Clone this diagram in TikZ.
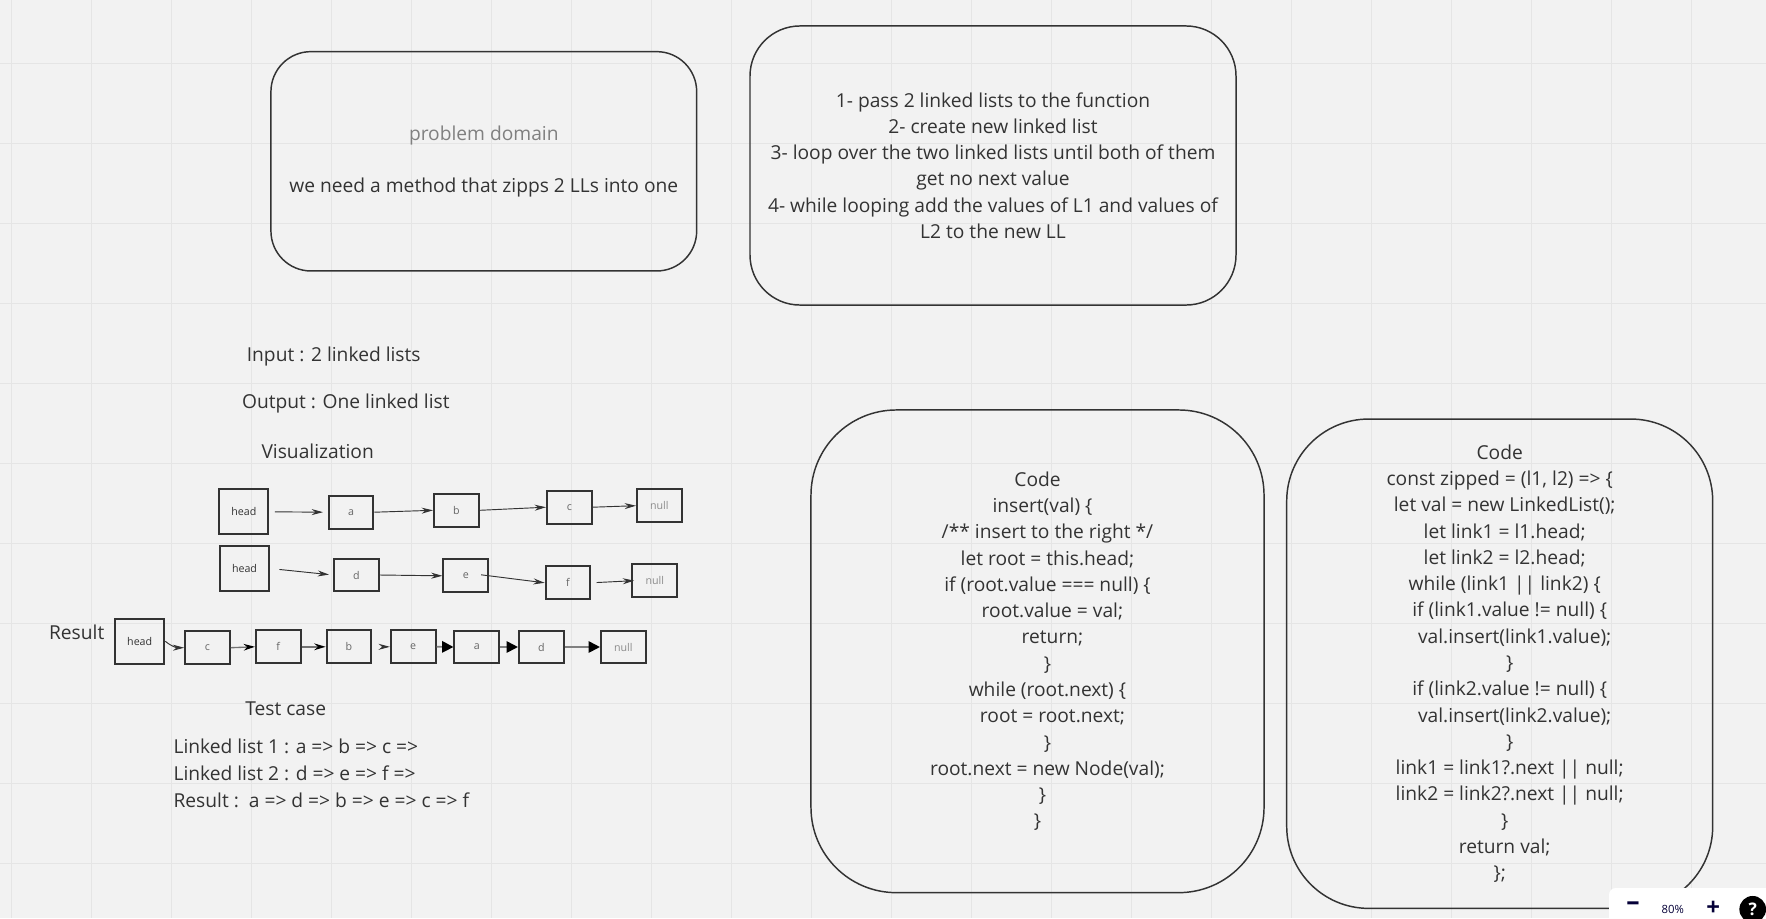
\documentclass[tikz,border=0pt]{standalone}
\usepackage{fontspec}
\setmainfont{Open Sans}
\usetikzlibrary{arrows.meta,positioning,calc}
\definecolor{ink}{HTML}{333333}
\definecolor{paper}{HTML}{F2F2F2}
\definecolor{gridc}{HTML}{E5E5E5}
\definecolor{navy}{HTML}{050038}
\newcommand{\ind}[1]{\hspace*{#1\fontdimen2\font}}

\begin{document}
\begin{tikzpicture}[x=0.75pt,y=-0.75pt,>=Stealth,
  txt/.style={font=\fontsize{14.4}{19.7}\selectfont,text=ink,inner sep=0pt},
  board/.style={txt,draw=ink,line width=1.1pt,align=center},
  cell/.style={draw=ink,line width=1.5pt,minimum width=33.5pt,minimum height=24.5pt,inner sep=0pt,font=\fontsize{8}{9}\selectfont,text=black!60},
  headcell/.style={cell,minimum width=37pt,minimum height=33.75pt,text=ink},
  nullcell/.style={cell,text=black!45},
  link/.style={draw=ink,line width=0.7pt,-{Stealth[length=8.5pt,width=4.5pt]}},
  rlink/.style={draw=black!55,line width=1pt,-{Stealth[length=8.5pt,width=5pt,color=black]}},
  zlink/.style={draw=black!50,line width=1.3pt,-{Triangle[length=8.5pt,width=8.5pt,color=black]}}]

  \useasboundingbox (0,0) rectangle (1766,918);
  \fill[paper] (0,0) rectangle (1766,918);
  \foreach \gx in {11,91,...,1771} \draw[gridc,line width=0.75pt] (\gx,0) -- (\gx,918);
  \foreach \gy in {63,143,...,943} \draw[gridc,line width=0.75pt] (0,\gy) -- (1766,\gy);

  % problem domain and the steps
  \node[board,minimum width=319.3pt,minimum height=164.5pt,rounded corners=30pt] (prob) at (483.8,161.3)
    {\textcolor{black!50}{problem domain}\\[19pt]we need a method that zipps 2 LLs into one};
  \node[board,minimum width=364.5pt,minimum height=209.3pt,rounded corners=37.5pt] (steps) at (993,165.5)
    {1- pass 2 linked lists to the function\\
     2- create new linked list\\
     3- loop over the two linked lists until both of them\\
     get no next value\\
     4- while looping add the values of L1 and values of\\
     L2 to the new LL};

  \node[txt] (input)  at (333.7,356.7) {Input : 2 linked lists};
  \node[txt] (output) at (345.8,404)   {Output : One linked list};
  \node[txt] (visual) at (317.7,451.7) {Visualization};

  % first list
  \node[headcell] (head1) at (243.8,511.8) {head};
  \node[cell]     (a1)    at (351,512.2)   {a};
  \node[cell]     (b1)    at (456.3,510.3) {b};
  \node[cell]     (c1)    at (569.3,507.2) {c};
  \node[nullcell] (null1) at (659.3,505.7) {null};
  \draw[link,shorten <=4pt,shorten >=3.5pt] (head1.east) -- (a1.west);
  \draw[link,shorten >=0pt] (a1.east) -- (b1.west);
  \draw[link] (b1.east) -- (c1.west);
  \draw[link] (c1.east) -- (null1.west);

  % second list
  \node[headcell] (head2) at (244.5,568.5) {head};
  \node[cell]     (d2)    at (356.3,575)   {d};
  \node[cell]     (e2)    at (465.8,575.8) {e};
  \node[cell]     (f2)    at (568,582.8)   {f};
  \node[nullcell] (null2) at (654.8,580.8) {null};
  \draw[link,shorten <=7pt,shorten >=3pt] (head2.east) -- (d2.west);
  \draw[link] (d2.east) -- (e2.west);
  \draw[link,shorten <=-6pt] (e2.east) -- (f2.west);
  \draw[link,shorten <=4pt,shorten >=-2pt] (f2.east) -- (null2.west);

  % zipped result
  \node[txt] (reslabel) at (76.7,632.3) {Result};
  \node[headcell] (headR) at (139.7,641.3) {head};
  \node[cell]     (cR)    at (207.5,647.7) {c};
  \node[cell]     (fR)    at (278.3,646.8) {f};
  \node[cell]     (bR)    at (349,646.8)   {b};
  \node[cell]     (eR)    at (413.2,646.8) {e};
  \node[cell]     (aR)    at (476.8,647)   {a};
  \node[cell]     (dR)    at (541.3,647)   {d};
  \node[nullcell] (nullR) at (623.3,647)   {null};
  \draw[link] (headR.east) to[out=-40,in=180] (cR.west);
  \draw[rlink] (cR.east) -- (fR.west);
  \draw[rlink,line width=1.5pt] (fR.east) -- (bR.west);
  \draw[link,shorten <=7pt] (bR.east) -- (eR.west);
  \draw[zlink] (eR.east) -- (aR.west);
  \draw[zlink] (aR.east) -- (dR.west);
  \draw[zlink] (dR.east) -- (nullR.west);

  % test case
  \node[txt] (testcase) at (285.7,709) {Test case};
  \node[txt,font=\fontsize{14.4}{20.5}\selectfont,align=left,anchor=west] (tests) at (173.3,773.3)
    {Linked list 1 : a => b => c =>\\
     Linked list 2 : d => e => f =>\\
     Result :\ \ a => d => b => e => c => f};

  % code boxes
  \node[board,minimum width=339.8pt,minimum height=362pt,rounded corners=64pt] (insertcode) at (1037.5,651.3)
    {Code\\
     \ind{2}insert(val) \{\\
     \ind{4}/** insert to the right */\\
     \ind{4}let root = this.head;\\
     \ind{4}if (root.value === null) \{\\
     \ind{6}root.value = val;\\
     \ind{6}return;\\
     \ind{4}\}\\
     \ind{4}while (root.next) \{\\
     \ind{6}root = root.next;\\
     \ind{4}\}\\
     \ind{4}root.next = new Node(val);\\
     \ind{2}\}\\
     \}};
  \node[board,minimum width=319.5pt,minimum height=367pt,rounded corners=61.5pt] (zipcode) at (1499.7,663.7)
    {Code\\
     const zipped = (l1, l2) => \{\\
     \ind{2}let val = new LinkedList();\\
     \ind{2}let link1 = l1.head;\\
     \ind{2}let link2 = l2.head;\\
     \ind{2}while (link1 || link2) \{\\
     \ind{4}if (link1.value != null) \{\\
     \ind{6}val.insert(link1.value);\\
     \ind{4}\}\\
     \ind{4}if (link2.value != null) \{\\
     \ind{6}val.insert(link2.value);\\
     \ind{4}\}\\
     \ind{4}link1 = link1?.next || null;\\
     \ind{4}link2 = link2?.next || null;\\
     \ind{2}\}\\
     \ind{2}return val;\\
     \};};

  % zoom widget
  \fill[white,rounded corners=5pt] (1609,888) rectangle (1800,950);
  \node[font=\fontsize{20}{20}\bfseries,text=navy,inner sep=0pt] (zoomout) at (1633,906) {–};
  \node[font=\fontsize{8.5}{9}\selectfont,text=navy,inner sep=0pt] (zoomlvl) at (1672.7,909) {80\%};
  \node[font=\fontsize{18}{18}\bfseries,text=navy,inner sep=0pt] (zoomin) at (1713.3,908.5) {+};
  \node[circle,fill=black,minimum size=20pt,inner sep=0pt,text=white,font=\fontsize{13}{13}\bfseries] (help) at (1752.7,909.3) {?};
\end{tikzpicture}
\end{document}
